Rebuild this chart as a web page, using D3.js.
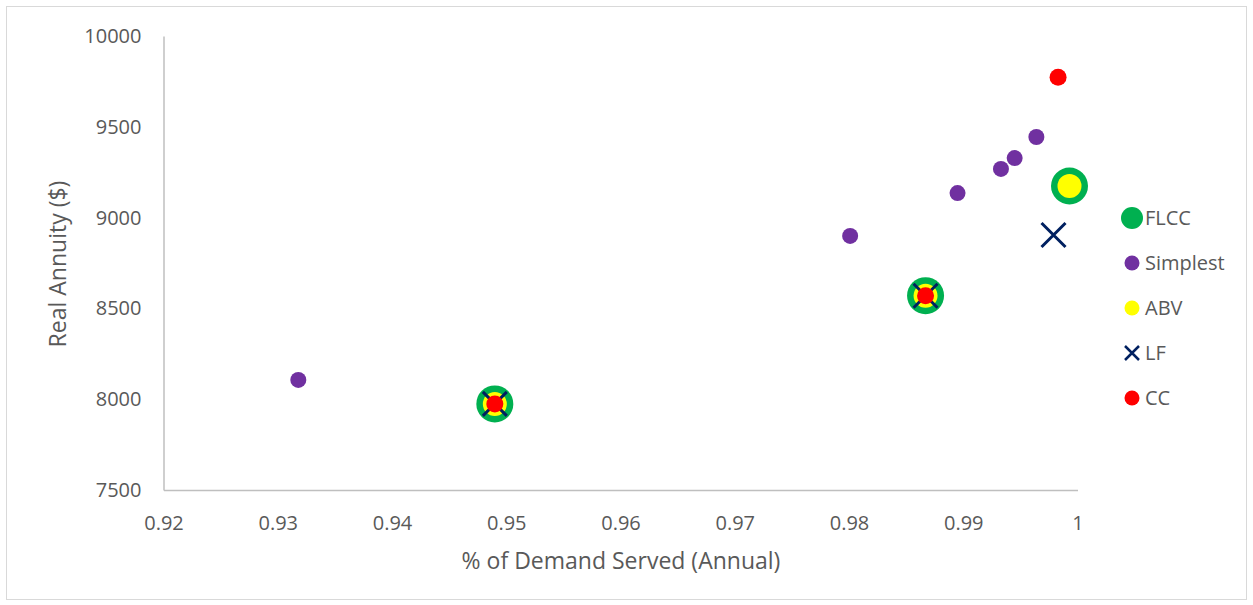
<!DOCTYPE html>
<html lang="en">
<head>
<meta charset="UTF-8">
<title>Real Annuity vs Demand Served</title>
<script src="https://cdn.jsdelivr.net/npm/d3@7"></script>
<style>
  body { margin: 0; background: #fff; }
  text { font-family: "Open Sans", "Noto Sans", sans-serif; fill: #595959; }
</style>
</head>
<body>
<div id="chart"></div>
<script>
// data
var xTicks = [0.92, 0.93, 0.94, 0.95, 0.96, 0.97, 0.98, 0.99, 1];
var yTicks = [7500, 8000, 8500, 9000, 9500, 10000];

var flccX = [0.9490, 0.9867, 0.9993];
var flccY = [7974, 8570, 9174];
var simplestX = [0.9318, 0.9801, 0.9895, 0.9933, 0.9945, 0.9964];
var simplestY = [8106, 8899, 9135, 9268, 9328, 9444];
var abvX = [0.9490, 0.9867, 0.9993];
var abvY = [7974, 8570, 9174];
var lfX = [0.9490, 0.9867, 0.9979];
var lfY = [7974, 8570, 8904];
var ccX = [0.9490, 0.9867, 0.9983];
var ccY = [7974, 8570, 9773];

var W = 1253, H = 605;
var plotL = 163.5, plotR = 1077.5, plotT = 36, plotB = 490;

var svg = d3.select('#chart').append('svg')
    .attr('width', W).attr('height', H);

// outer border
svg.append('rect')
    .attr('x', 6.5).attr('y', 6.5)
    .attr('width', 1240).attr('height', 593)
    .attr('fill', 'none').attr('stroke', '#d9d9d9');

var x = d3.scaleLinear().domain([0.92, 1]).range([plotL, plotR]);
var y = d3.scaleLinear().domain([7500, 10000]).range([plotB, plotT]);

// axes (no ticks, just line + labels)
var xAxis = svg.append('g')
    .attr('transform', 'translate(0,' + plotB + ')')
    .call(d3.axisBottom(x).tickValues(xTicks).tickSize(0).tickPadding(26)
        .tickFormat(function(d) { return d === 1 ? '1' : d3.format('.2f')(d); }));
var yAxis = svg.append('g')
    .attr('transform', 'translate(' + plotL + ',0)')
    .call(d3.axisLeft(y).tickValues(yTicks).tickSize(0).tickPadding(22)
        .tickFormat(d3.format('d')));

[xAxis, yAxis].forEach(function(a) {
    a.select('.domain').attr('stroke', '#bfbfbf').attr('stroke-width', 1.5);
    a.selectAll('text').attr('font-size', 20).attr('fill', '#595959')
        .attr('font-family', '"Open Sans", sans-serif');
});

// axis titles
svg.append('text')
    .attr('x', 621).attr('y', 569)
    .attr('text-anchor', 'middle').attr('font-size', 23)
    .text('% of Demand Served (Annual)');
svg.append('text')
    .attr('transform', 'translate(66,264) rotate(-90)')
    .attr('text-anchor', 'middle').attr('font-size', 23)
    .text('Real Annuity ($)');

function pts(xs, ys) {
    return xs.map(function(v, i) { return [v, ys[i]]; });
}

function circles(data, r, color) {
    svg.append('g').selectAll('circle')
        .data(data).enter().append('circle')
        .attr('cx', function(d) { return x(d[0]); })
        .attr('cy', function(d) { return y(d[1]); })
        .attr('r', r)
        .attr('fill', color);
}

function crosses(data, s, color, w) {
    svg.append('g').selectAll('path')
        .data(data).enter().append('path')
        .attr('d', function(d) {
            var cx = x(d[0]), cy = y(d[1]);
            return 'M' + (cx - s) + ',' + (cy - s) + 'L' + (cx + s) + ',' + (cy + s) +
                'M' + (cx - s) + ',' + (cy + s) + 'L' + (cx + s) + ',' + (cy - s);
        })
        .attr('stroke', color).attr('stroke-width', w).attr('fill', 'none');
}

circles(pts(flccX, flccY), 18.5, '#00b050');
circles(pts(simplestX, simplestY), 8, '#7030a0');
circles(pts(abvX, abvY), 12, '#ffff00');
crosses(pts(lfX, lfY), 12, '#002060', 3);
circles(pts(ccX, ccY), 8.5, '#ff0000');

// legend
var legend = [
    { name: 'FLCC', type: 'c', r: 11, color: '#00b050' },
    { name: 'Simplest', type: 'c', r: 7.5, color: '#7030a0' },
    { name: 'ABV', type: 'c', r: 7.5, color: '#ffff00' },
    { name: 'LF', type: 'x', r: 7, color: '#002060' },
    { name: 'CC', type: 'c', r: 7.5, color: '#ff0000' }
];
var lg = svg.append('g').selectAll('g')
    .data(legend).enter().append('g')
    .attr('transform', function(d, i) { return 'translate(1132,' + (218 + i * 45) + ')'; });
lg.filter(function(d) { return d.type === 'c'; }).append('circle')
    .attr('r', function(d) { return d.r; })
    .attr('fill', function(d) { return d.color; });
lg.filter(function(d) { return d.type === 'x'; }).append('path')
    .attr('d', 'M-7,-7L7,7M-7,7L7,-7')
    .attr('stroke', function(d) { return d.color; })
    .attr('stroke-width', 2.5);
lg.append('text')
    .attr('x', 13).attr('dy', '0.35em')
    .attr('font-size', 20)
    .text(function(d) { return d.name; });
</script>
</body>
</html>
